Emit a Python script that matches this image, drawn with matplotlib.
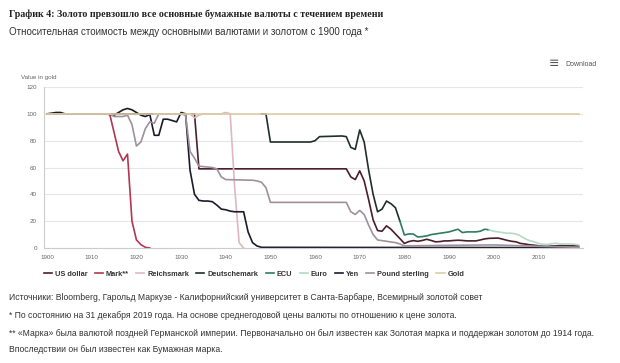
import matplotlib.pyplot as plt

# Value in gold (1900 = 100)
usd_years = [1900, 1933, 1934, 1967, 1968, 1969, 1970, 1971, 1972, 1973, 1974, 1975, 1976, 1977,
             1978, 1979, 1980, 1981, 1982, 1983, 1984, 1985, 1986, 1987, 1988, 1989, 1990, 1991,
             1992, 1993, 1994, 1995, 1996, 1997, 1998, 1999, 2000, 2001, 2002, 2003, 2004, 2005,
             2006, 2007, 2008, 2009, 2010, 2011, 2012, 2013, 2014, 2015, 2016, 2017, 2018, 2019]
usd_vals = [100, 100, 59, 59, 53, 51, 57.5, 50, 36, 21, 13, 12.5, 16.5, 14,
            10.5, 7, 3.4, 4.8, 5.5, 5.0, 5.6, 6.5, 5.6, 4.6, 4.8, 5.3, 5.3, 5.6,
            5.8, 5.6, 5.3, 5.3, 5.3, 6.0, 6.8, 7.2, 7.3, 7.4, 6.6, 5.7, 5.0, 4.6,
            3.4, 3.0, 2.4, 2.1, 1.7, 1.3, 1.2, 1.5, 1.6, 1.8, 1.7, 1.6, 1.6, 1.5]

mark_years = [1900, 1914, 1915, 1916, 1917, 1918, 1919, 1920, 1921, 1922, 1923]
mark_vals = [100, 100, 86, 72, 65, 70, 20, 6, 2.5, 0.5, 0]

reichsmark_years = [1924, 1932, 1933, 1934, 1935, 1939, 1940, 1941, 1942, 1943, 1944]
reichsmark_vals = [100, 100, 97, 99, 100, 100, 101, 100, 45, 4, 0]

dm_years = [1948, 1949, 1950, 1959, 1960, 1961, 1966, 1967, 1968, 1969, 1970, 1971, 1972,
            1973, 1974, 1975, 1976, 1977, 1978, 1979]
dm_vals = [100, 100, 79, 79, 80, 83, 83.5, 83, 75, 73.5, 88, 79, 58,
           40, 27, 29, 35, 33, 30, 20]

ecu_years = [1979, 1980, 1981, 1982, 1983, 1984, 1985, 1986, 1987, 1988, 1989, 1990, 1991,
             1992, 1993, 1994, 1995, 1996, 1997, 1998, 1999]
ecu_vals = [20, 9.7, 10.5, 10.4, 8.2, 8.5, 9, 10, 10.5, 11, 11.5, 12, 13,
            14, 11.5, 12, 12, 12, 12.5, 14, 13.5]

euro_years = [1999, 2000, 2001, 2002, 2003, 2004, 2005, 2006, 2007, 2008, 2009, 2010,
              2011, 2012, 2013, 2014, 2015, 2016, 2017, 2018, 2019]
euro_vals = [13.5, 12.5, 12, 11.5, 11, 11, 10.4, 9, 7, 5.5, 4.7, 3.5,
             2.8, 2.6, 3.2, 3.5, 3, 3, 3, 2.8, 2.3]

yen_years = [1900, 1901, 1902, 1903, 1904, 1913, 1914, 1915, 1916, 1917, 1918, 1919, 1920,
             1921, 1922, 1923, 1924, 1925, 1926, 1927, 1928, 1929, 1930, 1931, 1932, 1933,
             1934, 1935, 1936, 1937, 1938, 1939, 1940, 1941, 1942, 1943, 1944, 1945, 1946,
             1947, 1948, 1970, 1990, 2019]
yen_vals = [100, 100.5, 101, 101, 100, 100, 99.5, 99, 101, 103, 104, 103, 101,
            99, 98, 99.5, 84, 84, 96, 96, 95, 94, 101, 100, 58, 40,
            35.5, 35, 35, 34.5, 32, 29, 28.5, 27.5, 27, 27, 27, 12, 4,
            1.5, 0.5, 0.4, 0.4, 0.3]

gbp_years = [1900, 1914, 1915, 1917, 1918, 1919, 1920, 1921, 1922, 1923, 1924, 1925, 1930,
             1931, 1932, 1933, 1934, 1937, 1938, 1939, 1940, 1946, 1947, 1948, 1949, 1950,
             1967, 1968, 1969, 1970, 1971, 1972, 1973, 1974, 1975, 1976, 1977, 1978, 1979,
             1980, 1990, 2000, 2008, 2019]
gbp_vals = [100, 100, 98, 98, 99, 92, 76, 79, 89, 94, 93, 100, 100,
            99, 72, 67, 61, 60, 59, 53, 51, 50.5, 50, 49, 45, 34,
            34, 27, 25, 28, 25, 17, 10, 6, 5.5, 5, 4.5, 4, 3,
            1.6, 2, 2.3, 1.5, 0.5]

gold_years = [1900, 2019]
gold_vals = [100, 100]

series = [
    ("US dollar", usd_years, usd_vals, "#4a1e2c"),
    ("Mark**", mark_years, mark_vals, "#b2374f"),
    ("Reichsmark", reichsmark_years, reichsmark_vals, "#e0b7c0"),
    ("Deutschemark", dm_years, dm_vals, "#1f2f2a"),
    ("ECU", ecu_years, ecu_vals, "#2f7d5f"),
    ("Euro", euro_years, euro_vals, "#b3dcc2"),
    ("Yen", yen_years, yen_vals, "#1b1a2c"),
    ("Pound sterling", gbp_years, gbp_vals, "#a0909c"),
    ("Gold", gold_years, gold_vals, "#dccda4"),
]

plt.rcParams['font.family'] = ['Liberation Sans', 'DejaVu Sans']

fig = plt.figure(figsize=(6.2, 3.63), dpi=100)
ax = fig.add_axes([44 / 620, 1 - 248 / 363, (583 - 44) / 620, (248 - 87) / 363])

for name, yrs, vals, col in series:
    ax.plot(yrs, vals, color=col, lw=1.2, label=name, solid_joinstyle='round')

ax.set_xlim(1899.3, 2020)
ax.set_ylim(0, 120)
ax.set_xticks(range(1900, 2020, 10))
ax.set_yticks(range(0, 121, 20))
ax.grid(axis='y', color='#e6e6e6', lw=0.8)
ax.set_axisbelow(True)
for s in ['top', 'right']:
    ax.spines[s].set_visible(False)
ax.spines['left'].set_color('#cccccc')
ax.spines['bottom'].set_color('#cccccc')
ax.spines['left'].set_linewidth(0.8)
ax.spines['bottom'].set_linewidth(0.8)
ax.tick_params(axis='both', length=0, labelsize=4.5, labelcolor='#666666', pad=5)

# titles and notes
fig.text(9 / 620, 1 - 14 / 363, "График 4: Золото превзошло все основные бумажные валюты с течением времени",
         family='Liberation Serif', weight='bold', fontsize=7.2, va='center', color='#222222')
fig.text(9 / 620, 1 - 32 / 363, "Относительная стоимость между основными валютами и золотом с 1900 года *",
         fontsize=7.0, va='center', color='#333333')
fig.text(21 / 620, 1 - 77 / 363, "Value in gold", fontsize=4.5, va='center', color='#666666')
fig.text(549 / 620, 1 - 64 / 363, "≡", family='DejaVu Sans', fontsize=9, va='center', color='#555555')
fig.text(565 / 620, 1 - 64 / 363, "Download", fontsize=5, va='center', color='#555555')

fig.legend(loc='center', bbox_to_anchor=(254 / 620, 1 - 274 / 363), ncol=9, frameon=False,
           handlelength=1.1, handletextpad=0.4, columnspacing=1.0,
           prop={'size': 5.3, 'weight': 'bold'}, labelcolor='#333333')

notes = [
    (298, "Источники: Bloomberg, Гарольд Маркузе - Калифорнийский университет в Санта-Барбаре, Всемирный золотой совет"),
    (316, "* По состоянию на 31 декабря 2019 года. На основе среднегодовой цены валюты по отношению к цене золота."),
    (334, "** «Марка» была валютой поздней Германской империи. Первоначально он был известен как Золотая марка и поддержан золотом до 1914 года."),
    (349, "Впоследствии он был известен как Бумажная марка."),
]
for y, t in notes:
    fig.text(9 / 620, 1 - y / 363, t, fontsize=6.2, va='center', color='#333333')

fig.savefig("out.png", dpi=100)
